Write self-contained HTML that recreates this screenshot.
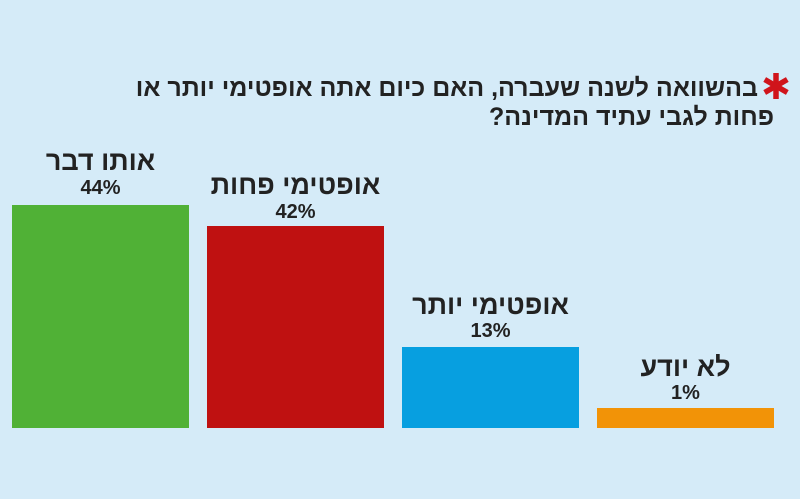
<!DOCTYPE html>
<html><head><meta charset="utf-8"><style>
body{margin:0;width:800px;height:499px;background:#d5ebf8;position:relative;overflow:hidden;font-family:"Liberation Sans","DejaVu Sans",sans-serif;color:#222;}
.t{position:absolute;direction:rtl;font-weight:bold;white-space:nowrap;}
.bar{position:absolute;}
.lab{position:absolute;width:177px;text-align:center;direction:rtl;font-weight:bold;white-space:nowrap;}
.l1{font-size:27px;}
.l2{font-size:20px;}
</style></head><body>
<div class="t" style="right:42px;top:76px;font-size:25px;line-height:25px;">בהשוואה לשנה שעברה, האם כיום אתה אופטימי יותר או</div>
<svg style="position:absolute;left:762px;top:72px" width="28" height="28" viewBox="-14 -14 28 28">
<g stroke="#d0141b" stroke-width="5.5" stroke-linecap="butt">
<line x1="0" y1="-13" x2="0" y2="13"/>
<line x1="-11.3" y1="-6.5" x2="11.3" y2="6.5"/>
<line x1="-11.3" y1="6.5" x2="11.3" y2="-6.5"/>
</g></svg>
<div class="t" style="right:26px;top:105px;font-size:25px;line-height:25px;">פחות לגבי עתיד המדינה?</div>

<div class="bar" style="left:12px;top:205px;width:177px;height:223px;background:#50b136"></div>
<div class="bar" style="left:207px;top:226px;width:177px;height:202px;background:#bf1111"></div>
<div class="bar" style="left:402px;top:347px;width:177px;height:81px;background:#079fe0"></div>
<div class="bar" style="left:597px;top:408px;width:177px;height:20px;background:#f29307"></div>

<div class="lab l1" style="left:12px;top:146px">אותו דבר</div>
<div class="lab l2" style="left:12px;top:177px">44%</div>
<div class="lab l1" style="left:207px;top:170px">אופטימי פחות</div>
<div class="lab l2" style="left:207px;top:201px">42%</div>
<div class="lab l1" style="left:402px;top:290px">אופטימי יותר</div>
<div class="lab l2" style="left:402px;top:320px">13%</div>
<div class="lab l1" style="left:597px;top:352px">לא יודע</div>
<div class="lab l2" style="left:597px;top:382px">1%</div>
</body></html>
